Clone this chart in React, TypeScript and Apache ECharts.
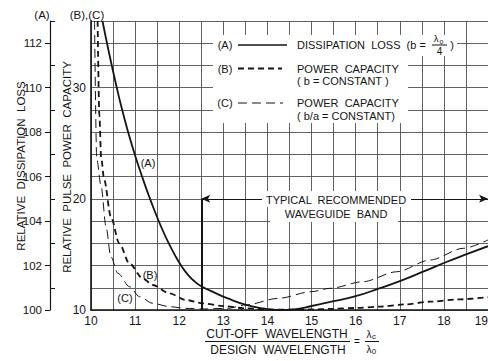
import React, { useEffect, useRef } from 'react';
import * as echarts from 'echarts';

// Cut-off wavelength / design wavelength (x) for each curve
const ratioA = [10.26, 10.4, 10.55, 10.7, 10.85, 11.0, 11.15, 11.3, 11.45, 11.6, 11.75, 11.9, 12.05, 12.2, 12.35, 12.5, 12.8, 13.1, 13.5, 13.9, 14.25, 14.6, 15.0, 15.5, 16.0, 16.55, 17.0, 17.5, 18.07, 18.5, 19.0];
// (A) relative dissipation loss
const lossA = [113.0, 111.65, 110.3, 109.05, 107.95, 106.95, 106.05, 105.2, 104.42, 103.7, 103.05, 102.48, 101.98, 101.58, 101.28, 101.07, 100.78, 100.52, 100.24, 100.07, 100.0, 100.03, 100.18, 100.4, 100.62, 100.98, 101.3, 101.7, 102.17, 102.5, 102.87];

const ratioB = [10.15, 10.19, 10.23, 10.3, 10.45, 10.64, 10.87, 11.17, 11.4, 11.78, 12.15, 12.53, 13.0, 13.5, 14.0, 14.5, 15.0, 15.42, 16.0, 16.55, 17.1, 17.69, 18.3, 19.0];
// (B) relative pulse power capacity, b = constant
const capB = [36, 27.5, 23.7, 21.7, 18.4, 16.0, 14.2, 12.85, 12.25, 11.5, 10.9, 10.6, 10.35, 10.15, 10.05, 10.03, 10.05, 10.1, 10.18, 10.3, 10.5, 10.75, 10.95, 11.15];

const ratioC = [10.08, 10.13, 10.23, 10.34, 10.45, 10.61, 10.87, 11.1, 11.4, 11.78, 12.15, 12.53, 13.1, 13.5, 14.25, 15.0, 15.42, 16.17, 16.93, 17.69, 18.44, 19.0];
// (C) relative pulse power capacity, b/a = constant
const capC = [36, 23.6, 21.1, 17.5, 14.8, 13.3, 12.1, 11.2, 10.6, 10.3, 10.15, 10.09, 10.15, 10.45, 11.05, 11.65, 11.95, 12.55, 13.44, 14.5, 15.55, 16.3];

// Tick labels of the (A) loss axis
const lossTicks = ['100', '101', '102', '103', '104', '105', '106', '107', '108', '109', '110', '111', '112', '113'];

// Recommended waveguide band
const bandStart = 12.5;
const bandEnd = 19;
const bandLevel = 20;

export default function App() {
  const ref = useRef<HTMLDivElement>(null);
  useEffect(() => {
    const chart = echarts.init(ref.current!, null, { renderer: 'svg' });
    const F = '"Liberation Sans", Arial, sans-serif';
    const ink = '#151515';
    const gridCol = '#505050';
    const txt = (text: string, x: number, y: number, size = 11, align = 'center', rot = 0) => ({
      type: 'text', x, y, rotation: rot, z: 60,
      style: { text, fill: ink, fontSize: size, fontFamily: F, align, verticalAlign: 'middle' },
    });
    const ln = (x1: number, y1: number, x2: number, y2: number, w = 1, dash: any = null) => ({
      type: 'line', z: 60, shape: { x1, y1, x2, y2 },
      style: { stroke: ink, lineWidth: w, lineDash: dash },
    });
    const mask = (x: number, y: number, w: number, h: number) => ({
      type: 'rect', z: 55, shape: { x, y, width: w, height: h }, style: { fill: '#ffffff' },
    });
    chart.setOption({
      animation: false,
      backgroundColor: '#ffffff',
      grid: { left: 91, right: 0, top: 21, bottom: 51, containLabel: false, outerBoundsMode: 'none' },
      xAxis: {
        type: 'value', min: 10, max: 19, interval: 0.5,
        axisLine: { show: true, onZero: false, lineStyle: { color: ink, width: 1.6 } },
        axisTick: { show: false },
        splitLine: { show: true, lineStyle: { color: gridCol, width: 0.9 } },
        axisLabel: {
          formatter: (v: number) => (v % 1 === 0 ? String(v) : ''),
          color: ink, fontSize: 12, fontFamily: F, margin: 5, showMaxLabel: true,
          alignMaxLabel: 'right',
        },
      },
      yAxis: [
        { type: 'value', min: 100, max: 113, show: false },
        {
          type: 'value', min: 10, max: 36, interval: 2, position: 'left',
          axisLine: { show: true, onZero: false, lineStyle: { color: ink, width: 1.6 } },
          axisTick: { show: false },
          splitLine: { show: true, lineStyle: { color: gridCol, width: 0.9 } },
          axisLabel: {
            formatter: (v: number) => (v % 10 === 0 ? String(v) : ''),
            color: ink, fontSize: 12, fontFamily: F, margin: 5,
          },
        },
        {
          type: 'category', data: lossTicks, boundaryGap: false, position: 'left', offset: 41,
          axisLine: { show: true, lineStyle: { color: ink, width: 1.2 } },
          axisTick: { show: true, interval: (i: number) => i % 2 === 0, length: 5, lineStyle: { color: ink, width: 1 } },
          axisLabel: { interval: (i: number) => i % 2 === 0, margin: 8, color: ink, fontSize: 11.5, fontFamily: F },
          splitLine: { show: false },
        },
        {
          type: 'category', data: lossTicks, boundaryGap: false, position: 'left', offset: 41,
          axisLine: { show: false },
          axisTick: { show: true, inside: true, interval: (i: number) => i % 2 === 1, length: 5, lineStyle: { color: ink, width: 1 } },
          axisLabel: { show: false },
          splitLine: { show: false },
        },
      ],
      series: [
        {
          type: 'line', yAxisIndex: 0, data: ratioA.map((x, i) => [x, lossA[i]]),
          showSymbol: false, smooth: 0.5, clip: true,
          lineStyle: { color: ink, width: 1.8 }, z: 5,
        },
        {
          type: 'line', yAxisIndex: 1, data: ratioB.map((x, i) => [x, capB[i]]),
          showSymbol: false, smooth: 0.3, smoothMonotone: 'x', clip: true,
          lineStyle: { color: ink, width: 1.8, type: [6, 4] }, z: 5,
        },
        {
          type: 'line', yAxisIndex: 1, data: ratioC.map((x, i) => [x, capC[i]]),
          showSymbol: false, smooth: 0.3, smoothMonotone: 'x', clip: true,
          lineStyle: { color: ink, width: 1, type: [9, 5] }, z: 5,
          markLine: {
            silent: true, animation: false, symbol: ['arrow', 'arrow'], symbolSize: [6, 9],
            label: { show: false },
            lineStyle: { color: ink, type: 'solid', width: 1.2 },
            data: [
              [{ coord: [bandStart, bandLevel] }, { coord: [bandEnd, bandLevel] }],
              [
                { coord: [bandStart, bandLevel], symbol: 'none', lineStyle: { width: 2, color: ink, type: 'solid' } },
                { coord: [bandStart, 10], symbol: 'none' },
              ],
            ],
          },
        },
      ],
      graphic: [
        // legend area mask
        mask(213, 35, 244, 21),
        mask(213, 56, 195, 67),
        // band label mask
        mask(262, 191, 149, 16),
        mask(270, 206, 128, 16),
        // header labels
        txt('(A)', 42, 15, 11.5),
        txt('(B),(C)', 87, 15, 11.5),
        // axis titles
        txt('RELATIVE  DISSIPATION  LOSS', 21, 166, 11.5, 'center', Math.PI / 2),
        txt('RELATIVE  PULSE  POWER  CAPACITY', 67, 167, 11.5, 'center', Math.PI / 2),
        // legend
        txt('(A)', 225, 45, 11),
        ln(238, 45, 287, 45, 1.6),
        txt('DISSIPATION  LOSS  (b =', 297, 45, 11, 'left'),
        txt('λ', 436, 38.5, 9.5),
        txt('o', 441.5, 41, 7),
        ln(432, 45, 447, 45, 1),
        txt('4', 439.5, 51.5, 10),
        txt(')', 452, 45, 11),
        txt('(B)', 225, 68.5, 11),
        ln(238, 68.5, 282, 68.5, 1.8, [6, 4]),
        txt('POWER  CAPACITY', 297, 68.5, 11, 'left'),
        txt('( b = CONSTANT )', 297, 81, 11, 'left'),
        txt('(C)', 225, 103, 11),
        ln(238, 103, 283, 103, 1, [9, 5]),
        txt('POWER  CAPACITY', 297, 103, 11, 'left'),
        txt('( b/a = CONSTANT)', 297, 115.5, 11, 'left'),
        // band label
        txt('TYPICAL  RECOMMENDED', 336, 200, 11),
        txt('WAVEGUIDE  BAND', 336, 213.5, 11),
        // curve labels
        txt('(A)', 148, 163, 11),
        txt('(B)', 150, 275, 11),
        txt('(C)', 125, 298, 11),
        // x axis title
        txt('CUT-OFF  WAVELENGTH', 277, 334, 12),
        ln(205, 341.5, 350, 341.5, 1),
        txt('DESIGN  WAVELENGTH', 278, 349.5, 12),
        txt('=', 357, 341.5, 10),
        txt('λ', 369, 334, 10),
        txt('c', 374, 336.5, 8),
        ln(365, 341.5, 379, 341.5, 1),
        txt('λ', 369, 349, 10),
        txt('0', 374, 351.5, 8),
      ],
    });
    return () => chart.dispose();
  }, []);
  return (
    <div
      ref={ref}
      style={{ position: 'fixed', left: 0, top: 0, width: 488, height: 361, background: '#fff' }}
    />
  );
}
